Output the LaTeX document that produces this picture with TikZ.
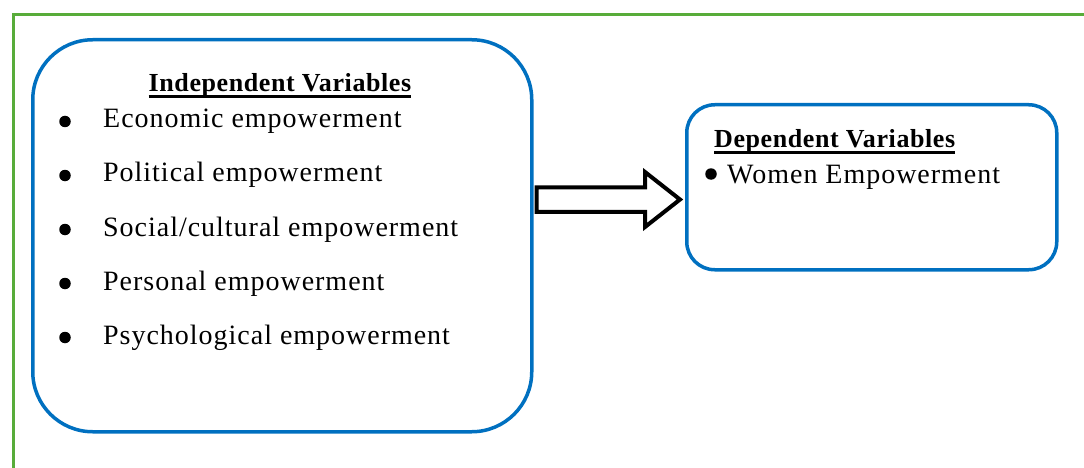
\documentclass[tikz,border=0pt]{standalone}
\usepackage{fontspec}
\setmainfont{Liberation Serif}
\newfontfamily\bodyfont[LetterSpace=3.5]{Liberation Serif}
\newfontfamily\headfont[LetterSpace=2.3]{Liberation Serif}
\definecolor{frameGreen}{RGB}{88,172,58}
\definecolor{boxBlue}{RGB}{0,112,192}
\tikzset{
  varbox/.style={draw=boxBlue, line width=3.5pt, fill=white},
  headtxt/.style={anchor=base, inner sep=0pt, font=\headfont\bfseries\fontsize{26}{30}\selectfont},
  itemtxt/.style={anchor=base west, inner sep=0pt, font=\bodyfont\fontsize{28}{32}\selectfont},
  bul/.style={circle, fill=black, inner sep=0pt, minimum size=11.5pt},
  uline/.style={line width=2.8pt},
  blockarrow/.style={draw=black, fill=white, line width=4pt, line join=miter}
}
\begin{document}
\begin{tikzpicture}[x=1pt,y=-1pt]
\useasboundingbox (0,0) rectangle (1084,468);
% green frame
\coordinate (fbl) at (13,468);
\coordinate (ftl) at (13,15);
\coordinate (ftr) at (1084,15);
\draw[frameGreen, line width=3pt] (fbl) -- (ftl) -- (ftr);
% boxes
\node[varbox, rounded corners=60pt, minimum width=499pt, minimum height=392pt, anchor=north west, inner sep=0pt] (L) at (31,38) {};
\node[varbox, rounded corners=28pt, minimum width=370pt, minimum height=165pt, anchor=north west, inner sep=0pt] (R) at (685,103) {};
% block arrow from L to R
\coordinate (aS) at ([xshift=3pt]L.east |- 0,199.5);
\coordinate (aT) at ([xshift=-5pt]R.west |- 0,199.5);
\draw[blockarrow] ([yshift=12.25pt]aS) -- ([yshift=12.25pt]645,199.5) -- ([yshift=27.5pt]645,199.5)
   -- (aT) -- ([yshift=-27.5pt]645,199.5) -- ([yshift=-12.25pt]645,199.5) -- ([yshift=-12.25pt]aS) -- cycle;
% left box text
\node[headtxt] (hL) at (280,92) {Independent Variables};
\draw[uline] ([yshift=-4.5pt]hL.base west) -- ([yshift=-4.5pt,xshift=-0.5pt]hL.base east);
\node[itemtxt] (i1) at (103,128) {Economic empowerment};
\node[itemtxt] (i2) at (103,182) {Political empowerment};
\node[itemtxt] (i3) at (103,236) {Social/cultural empowerment};
\node[itemtxt] (i4) at (103,290) {Personal empowerment};
\node[itemtxt] (i5) at (103,344) {Psychological empowerment};
\node[bul] (b1) at (65,121.5) {};
\node[bul] (b2) at (65,175.5) {};
\node[bul] (b3) at (65,229.5) {};
\node[bul] (b4) at (65,283.5) {};
\node[bul] (b5) at (65,337.5) {};
% right box text
\node[headtxt, anchor=base west] (hR) at (714,148) {Dependent Variables};
\draw[uline] ([yshift=-4.5pt]hR.base west) -- ([yshift=-4.5pt,xshift=-0.5pt]hR.base east);
\node[itemtxt] (w1) at (727,183) {Women Empowerment};
\node[bul] (b6) at (711,174) {};
\end{tikzpicture}
\end{document}
